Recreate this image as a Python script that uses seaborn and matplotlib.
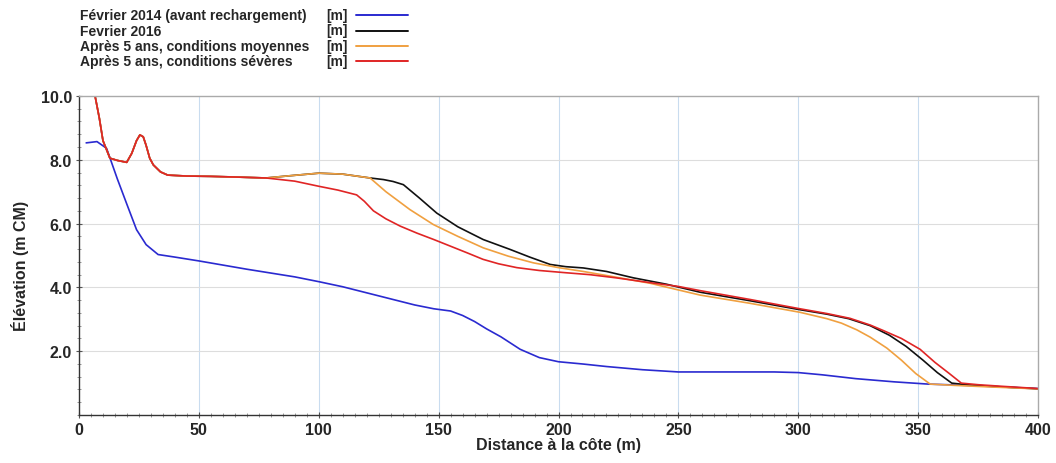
import matplotlib
matplotlib.use("Agg")
import matplotlib.pyplot as plt
import seaborn as sns
from matplotlib.ticker import MultipleLocator, FormatStrFormatter

# ---- data ----
series_names = [
    "Février 2014 (avant rechargement)",
    "Fevrier 2016",
    "Après 5 ans, conditions moyennes",
    "Après 5 ans, conditions sévères",
]
unit_label = "[m]"

x_2014 = [3, 7.5, 11.5, 16, 20, 24, 28, 33, 40, 50, 60, 70, 80, 90, 100, 110, 120, 130,
          140, 148, 155, 160, 165, 170, 176, 184, 192, 200, 210, 220, 235, 250, 270, 290,
          300, 310, 324, 340, 354, 370, 385, 400]
y_2014 = [8.53, 8.57, 8.36, 7.4, 6.6, 5.81, 5.34, 5.03, 4.95, 4.83, 4.7, 4.57, 4.45, 4.33,
          4.18, 4.02, 3.83, 3.64, 3.45, 3.33, 3.26, 3.12, 2.93, 2.7, 2.45, 2.06, 1.8, 1.67,
          1.6, 1.52, 1.42, 1.35, 1.35, 1.35, 1.33, 1.26, 1.14, 1.04, 0.97, 0.93, 0.88, 0.83]

x_2016 = [6.7, 8.5, 10, 12.9, 16, 19.9, 22, 24, 25.4, 26.8, 28, 29.5, 31, 34, 37, 45, 55,
          65, 78, 88, 100, 110, 121.4, 127, 131, 135.3, 142, 149.2, 158, 168.6, 179.8, 188,
          196.5, 203, 210.3, 220, 231.2, 245, 259, 280, 300, 312, 321, 330, 338, 345, 352,
          358, 364, 370, 385, 400]
y_2016 = [10.0, 9.3, 8.6, 8.05, 7.98, 7.92, 8.2, 8.6, 8.78, 8.72, 8.45, 8.05, 7.84, 7.62,
          7.52, 7.49, 7.48, 7.46, 7.43, 7.5, 7.58, 7.55, 7.43, 7.38, 7.32, 7.22, 6.8, 6.33,
          5.9, 5.5, 5.19, 4.95, 4.72, 4.65, 4.61, 4.5, 4.3, 4.1, 3.85, 3.58, 3.31, 3.16,
          3.02, 2.8, 2.5, 2.15, 1.72, 1.33, 1.0, 0.95, 0.88, 0.82]

x_moy = [6.7, 8.5, 10, 12.9, 16, 19.9, 22, 24, 25.4, 26.8, 28, 29.5, 31, 34, 37, 45, 55,
         65, 78, 88, 100, 110, 121.4, 128, 138, 147.8, 158, 168.6, 179, 189.5, 200, 210.3,
         224, 238.2, 259, 280, 300.7, 311.9, 318, 324.4, 330, 336.9, 343, 349, 355, 365,
         380, 400]
y_moy = [10.0, 9.3, 8.6, 8.05, 7.98, 7.92, 8.2, 8.6, 8.78, 8.72, 8.45, 8.05, 7.84, 7.62,
         7.52, 7.49, 7.48, 7.46, 7.43, 7.5, 7.58, 7.55, 7.43, 7.0, 6.44, 5.97, 5.6, 5.24,
         4.98, 4.77, 4.62, 4.5, 4.32, 4.13, 3.76, 3.5, 3.22, 3.02, 2.88, 2.67, 2.44, 2.1,
         1.72, 1.3, 0.97, 0.93, 0.88, 0.82]

x_sev = [6.7, 8.5, 10, 12.9, 16, 19.9, 22, 24, 25.4, 26.8, 28, 29.5, 31, 34, 37, 45, 55,
         65, 78, 90, 100, 108, 115.8, 119, 122.8, 128, 134, 141, 148, 155, 162, 168.5, 175,
         182.6, 192, 203, 213, 224, 240, 250, 259, 280, 300.7, 312, 321.6, 330, 335.4, 343,
         350.8, 357, 363, 368, 375, 385, 400]
y_sev = [10.0, 9.3, 8.6, 8.05, 7.98, 7.92, 8.2, 8.6, 8.78, 8.72, 8.45, 8.05, 7.84, 7.62,
         7.52, 7.49, 7.48, 7.46, 7.43, 7.33, 7.17, 7.05, 6.9, 6.7, 6.4, 6.15, 5.92, 5.7,
         5.5, 5.29, 5.08, 4.88, 4.74, 4.62, 4.53, 4.46, 4.4, 4.3, 4.13, 4.03, 3.9, 3.62,
         3.33, 3.18, 3.03, 2.82, 2.65, 2.4, 2.06, 1.65, 1.3, 1.0, 0.95, 0.9, 0.83]

x_ticks = [0, 50, 100, 150, 200, 250, 300, 350, 400]
y_ticks = [2.0, 4.0, 6.0, 8.0, 10.0]

colors = ["#2a2ad0", "#111111", "#f0a040", "#e02525"]

# ---- plot ----
sns.set_theme(style="white")
plt.rcParams["font.family"] = ["Liberation Sans", "DejaVu Sans"]

fig = plt.figure(figsize=(10.56, 4.64), dpi=100)
ax = fig.add_axes([0.0748, 0.1034, 0.9082, 0.6876])

datasets = [(x_2014, y_2014), (x_2016, y_2016), (x_moy, y_moy), (x_sev, y_sev)]
for (xs, ys), c in zip(datasets, colors):
    sns.lineplot(x=xs, y=ys, color=c, lw=1.2, ax=ax, sort=False, estimator=None)

ax.set_xlim(0, 400)
ax.set_ylim(0, 10)
ax.set_xticks(x_ticks)
ax.set_yticks(y_ticks)
ax.yaxis.set_major_formatter(FormatStrFormatter("%.1f"))
ax.xaxis.set_minor_locator(MultipleLocator(5))
ax.yaxis.set_minor_locator(MultipleLocator(0.4))

for lbl in ax.get_xticklabels() + ax.get_yticklabels():
    lbl.set_fontweight("bold")
    lbl.set_fontsize(11.5)
ax.tick_params(axis="both", which="major", direction="inout", length=4, width=0.8,
               color="#555555", pad=3, bottom=True, left=True)
ax.tick_params(axis="both", which="minor", direction="inout", length=2.5, width=0.6,
               color="#888888", bottom=True, left=True)

# grids
for xv in x_ticks[1:-1]:
    ax.axvline(xv, color="#c9dcef", lw=0.8, zorder=0)
for yv in y_ticks[:-1]:
    ax.axhline(yv, color="#dddddd", lw=0.8, zorder=0)

for side in ["left", "bottom"]:
    ax.spines[side].set_color("#333333")
    ax.spines[side].set_linewidth(1.0)
for side in ["top", "right"]:
    ax.spines[side].set_color("#aaaaaa")
    ax.spines[side].set_linewidth(1.0)

ax.set_xlabel("Distance à la côte (m)", fontsize=11.5, fontweight="bold", labelpad=0)
ax.set_ylabel("Élévation (m CM)", fontsize=11.5, fontweight="bold", labelpad=5)
ax.yaxis.set_label_coords(-0.052, 0.47)

# custom legend above the plot
W, H = 1056, 464
row_y = [16, 31.5, 46.5, 62]
for name, c, ry in zip(series_names, colors, row_y):
    fy = 1 - ry / H
    fig.text(80 / W, fy, name, fontsize=10, fontweight="bold", va="center", ha="left")
    fig.text(348 / W, fy, unit_label, fontsize=10, fontweight="bold", va="center", ha="right")
    fig.add_artist(plt.Line2D([356 / W, 408 / W], [fy, fy], color=c, lw=1.4,
                              transform=fig.transFigure))

fig.savefig("out.png", dpi=100)
